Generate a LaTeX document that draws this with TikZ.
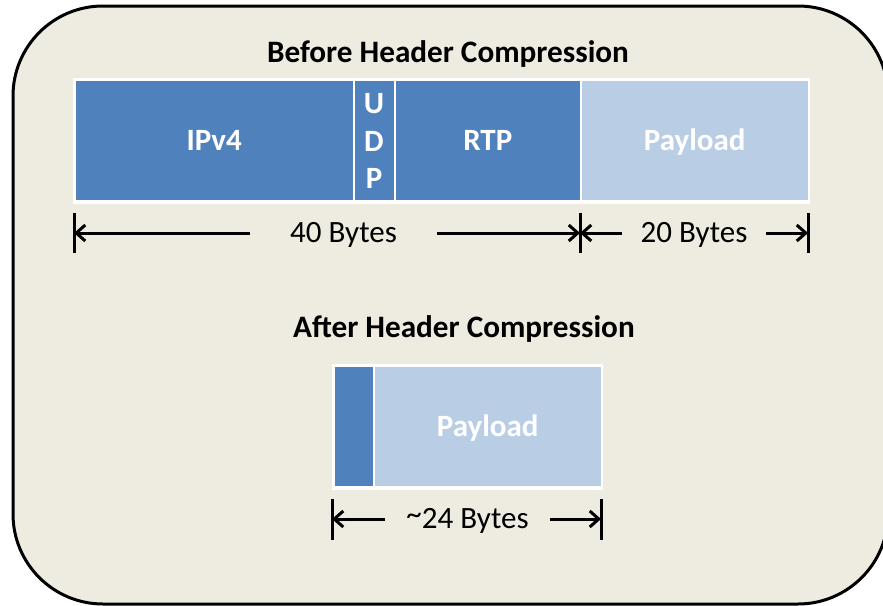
\documentclass[tikz,border=0pt]{standalone}
\usepackage{fontspec}
\setmainfont{Carlito}
\usetikzlibrary{arrows.meta}
\definecolor{panelfill}{HTML}{EEEBE0}
\definecolor{hdrblue}{HTML}{4F81BD}
\definecolor{loadblue}{HTML}{B9CDE5}
\begin{document}
\begin{tikzpicture}[x=1pt,y=-1pt,
  panel/.style={draw=black, line width=3pt, fill=panelfill, rounded corners=90pt},
  backing/.style={fill=white, draw=none},
  field/.style={draw=white, line width=1.5pt, fill=hdrblue, inner sep=0pt,
    anchor=north west, text=white, text height=19.5pt, text depth=0pt,
    font=\fontsize{31}{37.5}\selectfont\bfseries},
  loadfield/.style={field, fill=loadblue},
  letter/.style={text=white, anchor=base, inner sep=0pt,
    font=\fontsize{31}{37.5}\selectfont\bfseries},
  heading/.style={font=\fontsize{31.2}{36}\selectfont\bfseries, anchor=base, inner sep=0pt},
  dimlbl/.style={font=\fontsize{31}{36}\selectfont, text height=19.5pt, text depth=0pt, inner ysep=0pt},
  dimarrow/.style={line width=3pt, -{Straight Barb[length=9pt,width=16pt,line width=3pt]}},
  tick/.style={line width=3pt}
]
\useasboundingbox (0,0) rectangle (883,605);

% rounded panel, partly running off the page
\draw[panel] (13,6) rectangle (888,604);

% ---- before compression ----
\node[heading] (title1) at (448,62) {Before Header Compression};
\fill[backing] (72.5,77.5) rectangle (810,204);
\node[field, minimum width=279pt, minimum height=121pt] (ipv4) at (74,79) {IPv4};
\node[field, minimum width=41pt, minimum height=121pt] (udp) at (353,79) {};
\node[letter] (udpU) at (374,113) {U};
\node[letter] (udpD) at (374,151) {D};
\node[letter] (udpP) at (374,188) {P};
\node[field, minimum width=186pt, minimum height=121pt] (rtp) at (394,79) {RTP};
\node[loadfield, minimum width=228pt, minimum height=121pt] (pay1) at (580,79) {Payload};

\coordinate (ta) at (74,233);
\coordinate (tb) at (580,233);
\coordinate (tc) at (808,233);
\draw[tick] (74,213) -- (74,253);
\draw[tick] (580,213) -- (580,253);
\draw[tick] (808,213) -- (808,253);

\node[dimlbl, inner xsep=40pt] (len40) at (343.5,233) {40 Bytes};
\draw[dimarrow] (len40.west) -- (ta);
\draw[dimarrow] (len40.east) -- (tb);

\node[dimlbl, inner xsep=18pt] (len20) at (694,233) {20 Bytes};
\draw[dimarrow] (len20.west) -- (tb);
\draw[dimarrow] (len20.east) -- (tc);

% ---- after compression ----
\node[heading] (title2) at (464,337) {After Header Compression};
\fill[backing] (331.5,363.5) rectangle (603,490);
\node[field, minimum width=40pt, minimum height=121pt] (ctx) at (333,365) {};
\node[loadfield, minimum width=228pt, minimum height=121pt] (pay2) at (373,365) {Payload};

\coordinate (td) at (332,519);
\coordinate (te) at (601,519);
\draw[tick] (332,499) -- (332,540);
\draw[tick] (601,499) -- (601,540);

\node[dimlbl, inner xsep=21pt] (len24) at (467.5,519) {\raisebox{4pt}{\textasciitilde}24 Bytes};
\draw[dimarrow] (len24.west) -- (td);
\draw[dimarrow] (len24.east) -- (te);
\end{tikzpicture}
\end{document}
